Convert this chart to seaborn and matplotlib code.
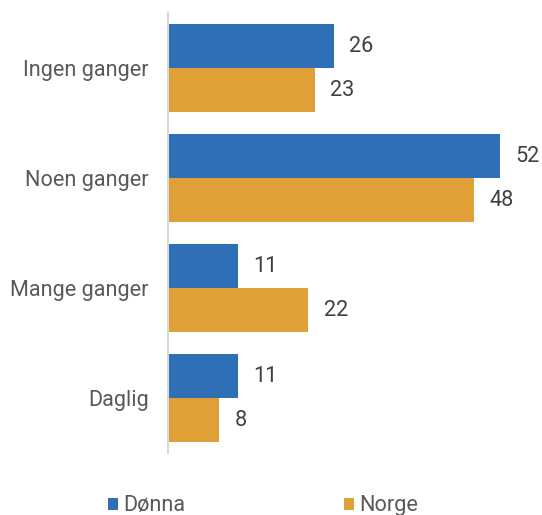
import matplotlib
matplotlib.use("Agg")
import matplotlib.pyplot as plt
from matplotlib.patches import Patch
import seaborn as sns
import pandas as pd

categories = ["Ingen ganger", "Noen ganger", "Mange ganger", "Daglig"]
series_names = ["Dønna", "Norge"]
donna = [26, 52, 11, 11]
norge = [23, 48, 22, 8]

colors = ["#2e6fb6", "#e09f37"]

df = pd.DataFrame({
    "Kategori": categories * 2,
    "Område": [series_names[0]] * 4 + [series_names[1]] * 4,
    "Prosent": donna + norge,
})

sns.set_theme(style="white")
plt.rcParams["font.family"] = ["Roboto", "DejaVu Sans"]

fs = 15.6

fig = plt.figure(figsize=(5.42, 5.15), dpi=100)
ax = fig.add_axes([168 / 542, 62 / 515, 1 - 168 / 542, 440 / 515])

sns.barplot(data=df, y="Kategori", x="Prosent", hue="Område", order=categories,
            hue_order=series_names, palette=colors, orient="h", width=0.8,
            ax=ax, legend=False, saturation=1, linewidth=0)

for container in ax.containers:
    ax.bar_label(container, fmt="%d", padding=11, fontsize=fs, color="#404040")

ax.set_xlim(0, (542 - 168) / 6.385)
ax.set_xlabel("")
ax.set_ylabel("")
ax.set_xticks([])
ax.tick_params(axis="y", length=0, pad=14, labelsize=fs, labelcolor="#595959")
for side in ["top", "right", "bottom"]:
    ax.spines[side].set_visible(False)
ax.spines["left"].set_color("#d9d9d9")
ax.spines["left"].set_linewidth(1.5)

handles = [Patch(facecolor=c, edgecolor="none") for c in colors]
fig.legend(handles, series_names, loc="center left", bbox_to_anchor=(108 / 542, 9 / 515),
           ncol=2, frameon=False, fontsize=fs, handlelength=0.46, handleheight=0.46,
           handletextpad=0.25, columnspacing=7.3, labelcolor="#595959", borderaxespad=0,
           borderpad=0)

fig.savefig("out.png", dpi=100)
